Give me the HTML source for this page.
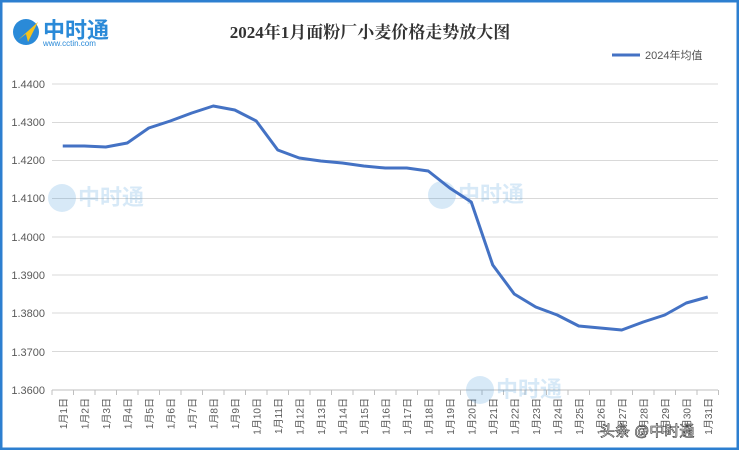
<!DOCTYPE html>
<html><head><meta charset="utf-8"><style>
html,body{margin:0;padding:0;background:#fff}
body{width:739px;height:450px;overflow:hidden}
text{font-family:"Liberation Sans","Noto Sans CJK SC",sans-serif}
</style></head><body>
<svg width="739" height="450" viewBox="0 0 739 450" xmlns="http://www.w3.org/2000/svg">
<rect x="1" y="1" width="737" height="448" fill="#fff" stroke="#2d7fd0" stroke-width="3"/>
<circle cx="26" cy="32" r="13" fill="#2a8ad8"/>
<path d="M18 40 L38 22 L28 42 L26 34 Z" fill="#f5c21b"/>
<text x="43" y="38" font-size="22" font-weight="bold" fill="#2a8ad8">中时通</text>
<text x="43" y="46" font-size="8" fill="#2a8ad8">www.cctin.com</text>
<text x="370" y="38" font-size="17" font-weight="bold" fill="#333" text-anchor="middle" style="font-family:'Liberation Serif','Noto Serif CJK SC',serif">2024年1月面粉厂小麦价格走势放大图</text>
<line x1="612" y1="55" x2="640" y2="55" stroke="#4472c4" stroke-width="3"/>
<text x="645" y="59" font-size="11" fill="#555">2024年均值</text>
<g stroke="#d9d9d9" stroke-width="1">
<line x1="52" y1="84" x2="718" y2="84"/><line x1="52" y1="122.5" x2="718" y2="122.5"/>
<line x1="52" y1="160.5" x2="718" y2="160.5"/><line x1="52" y1="198.5" x2="718" y2="198.5"/>
<line x1="52" y1="237" x2="718" y2="237"/><line x1="52" y1="275" x2="718" y2="275"/>
<line x1="52" y1="313" x2="718" y2="313"/><line x1="52" y1="351.5" x2="718" y2="351.5"/>
<line x1="52" y1="390" x2="718" y2="390" stroke="#bfbfbf"/>
</g>
<g font-size="11" fill="#595959" text-anchor="end">
<text x="45" y="88">1.4400</text><text x="45" y="126">1.4300</text><text x="45" y="164">1.4200</text>
<text x="45" y="202">1.4100</text><text x="45" y="241">1.4000</text><text x="45" y="279">1.3900</text>
<text x="45" y="317">1.3800</text><text x="45" y="356">1.3700</text><text x="45" y="394">1.3600</text>
</g>
<path stroke="#bfbfbf" d="M52 390v5M73.5 390v5M95 390v5M116.5 390v5M138 390v5M159.5 390v5M181 390v5M202.5 390v5M224 390v5M245.5 390v5M267 390v5M288.5 390v5M310 390v5M331.5 390v5M353 390v5M374.5 390v5M396 390v5M417.5 390v5M439 390v5M460.5 390v5M482 390v5M503.5 390v5M525 390v5M546.5 390v5M568 390v5M589.5 390v5M611 390v5M632.5 390v5M654 390v5M675.5 390v5M697 390v5M718.5 390v5"/>
<g font-size="10" fill="#595959" text-anchor="end">
<text transform="translate(66.75,398) rotate(-90)">1月1日</text>
<text transform="translate(88.25,398) rotate(-90)">1月2日</text>
<text transform="translate(109.75,398) rotate(-90)">1月3日</text>
<text transform="translate(131.25,398) rotate(-90)">1月4日</text>
<text transform="translate(152.75,398) rotate(-90)">1月5日</text>
<text transform="translate(174.25,398) rotate(-90)">1月6日</text>
<text transform="translate(195.75,398) rotate(-90)">1月7日</text>
<text transform="translate(217.25,398) rotate(-90)">1月8日</text>
<text transform="translate(238.75,398) rotate(-90)">1月9日</text>
<text transform="translate(260.25,398) rotate(-90)">1月10日</text>
<text transform="translate(281.75,398) rotate(-90)">1月11日</text>
<text transform="translate(303.25,398) rotate(-90)">1月12日</text>
<text transform="translate(324.75,398) rotate(-90)">1月13日</text>
<text transform="translate(346.25,398) rotate(-90)">1月14日</text>
<text transform="translate(367.75,398) rotate(-90)">1月15日</text>
<text transform="translate(389.25,398) rotate(-90)">1月16日</text>
<text transform="translate(410.75,398) rotate(-90)">1月17日</text>
<text transform="translate(432.25,398) rotate(-90)">1月18日</text>
<text transform="translate(453.75,398) rotate(-90)">1月19日</text>
<text transform="translate(475.25,398) rotate(-90)">1月20日</text>
<text transform="translate(496.75,398) rotate(-90)">1月21日</text>
<text transform="translate(518.25,398) rotate(-90)">1月22日</text>
<text transform="translate(539.75,398) rotate(-90)">1月23日</text>
<text transform="translate(561.25,398) rotate(-90)">1月24日</text>
<text transform="translate(582.75,398) rotate(-90)">1月25日</text>
<text transform="translate(604.25,398) rotate(-90)">1月26日</text>
<text transform="translate(625.75,398) rotate(-90)">1月27日</text>
<text transform="translate(647.25,398) rotate(-90)">1月28日</text>
<text transform="translate(668.75,398) rotate(-90)">1月29日</text>
<text transform="translate(690.25,398) rotate(-90)">1月30日</text>
<text transform="translate(711.75,398) rotate(-90)">1月31日</text>
</g>
<g opacity="0.18" fill="#2a8ad8">
<circle cx="62" cy="198" r="14"/><text x="78" y="205" font-size="22" font-weight="bold">中时通</text>
<circle cx="442" cy="195" r="14"/><text x="458" y="202" font-size="22" font-weight="bold">中时通</text>
<circle cx="480" cy="390" r="14"/><text x="496" y="397" font-size="22" font-weight="bold">中时通</text>
</g>
<polyline fill="none" stroke="#4472c4" stroke-width="3" stroke-linejoin="round" points="62.75,146 84.25,146 105.75,147 127.25,143 148.75,128 170.25,121 191.75,113 213.25,106 234.75,110 256.25,121 277.75,150 299.25,158 320.75,161 342.25,163 363.75,166 385.25,168 406.75,168 428.25,171 449.75,188 471.25,202 492.75,265 514.25,294 535.75,307 557.25,315 578.75,326 600.25,328 621.75,330 643.25,322 664.75,315 686.25,303 707.75,297"/>
<text x="600" y="436" font-size="15" fill="#fff" stroke="#333" stroke-width="0.6">头条 @中时通</text>
</svg>
</body></html>
